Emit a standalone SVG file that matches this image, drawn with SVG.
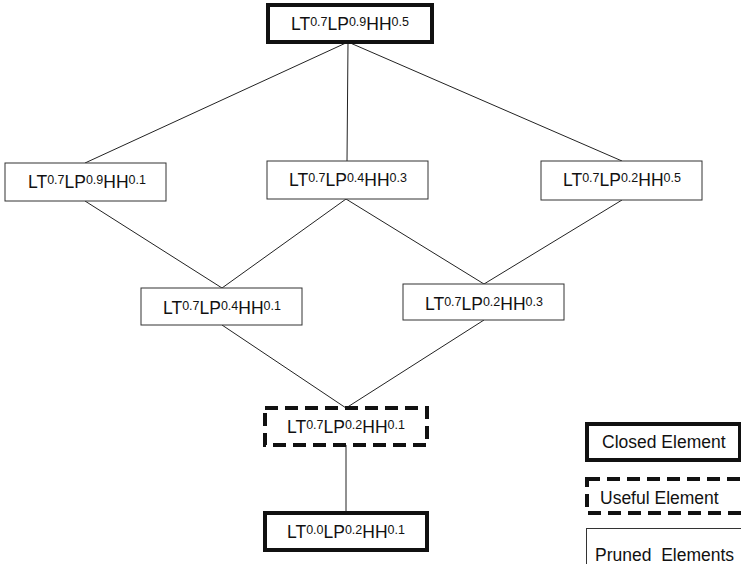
<svg xmlns="http://www.w3.org/2000/svg" width="741" height="564" viewBox="0 0 741 564">
<style>
text{font-family:"Liberation Sans",Arial,sans-serif;fill:#111;}
.lbl{font-size:17.5px;text-anchor:middle;}
.sup{font-size:12.5px;}
.leg{font-size:17.5px;}
.thin{fill:#fff;stroke:#333;stroke-width:1;}
.thick{fill:#fff;stroke:#111;stroke-width:4;}
.dash{fill:#fff;stroke:#111;stroke-width:4;stroke-dasharray:13 7;}
.edge{stroke:#222;stroke-width:1;fill:none;}
</style>
<g id="connectors">
<line class="edge" x1="348" y1="42" x2="85" y2="163"/>
<line class="edge" x1="348" y1="42" x2="347" y2="161"/>
<line class="edge" x1="348" y1="42" x2="622" y2="161"/>
<line class="edge" x1="85" y1="201" x2="222" y2="288"/>
<line class="edge" x1="346" y1="199" x2="222" y2="288"/>
<line class="edge" x1="346" y1="199" x2="484" y2="284"/>
<line class="edge" x1="622" y1="200" x2="484" y2="284"/>
<line class="edge" x1="222" y1="325" x2="346" y2="408"/>
<line class="edge" x1="484" y1="320" x2="346" y2="408"/>
<line class="edge" x1="346" y1="445" x2="346" y2="512"/>
</g>
<g id="n_top">
<rect class="thick" x="268" y="5" width="164" height="37"/>
<text class="lbl" x="350" y="30">LT<tspan class="sup" dy="-4">0.7</tspan><tspan dy="4">LP</tspan><tspan class="sup" dy="-4">0.9</tspan><tspan dy="4">HH</tspan><tspan class="sup" dy="-4">0.5</tspan></text>
</g>
<g id="n_l1">
<rect class="thin" x="5" y="163" width="161" height="38"/>
<text class="lbl" x="87" y="188">LT<tspan class="sup" dy="-4">0.7</tspan><tspan dy="4">LP</tspan><tspan class="sup" dy="-4">0.9</tspan><tspan dy="4">HH</tspan><tspan class="sup" dy="-4">0.1</tspan></text>
</g>
<g id="n_m1">
<rect class="thin" x="267" y="161" width="161" height="38"/>
<text class="lbl" x="348" y="186">LT<tspan class="sup" dy="-4">0.7</tspan><tspan dy="4">LP</tspan><tspan class="sup" dy="-4">0.4</tspan><tspan dy="4">HH</tspan><tspan class="sup" dy="-4">0.3</tspan></text>
</g>
<g id="n_r1">
<rect class="thin" x="541" y="161" width="161" height="39"/>
<text class="lbl" x="622" y="186">LT<tspan class="sup" dy="-4">0.7</tspan><tspan dy="4">LP</tspan><tspan class="sup" dy="-4">0.2</tspan><tspan dy="4">HH</tspan><tspan class="sup" dy="-4">0.5</tspan></text>
</g>
<g id="n_l2">
<rect class="thin" x="141" y="288" width="161" height="37"/>
<text class="lbl" x="222" y="314">LT<tspan class="sup" dy="-4">0.7</tspan><tspan dy="4">LP</tspan><tspan class="sup" dy="-4">0.4</tspan><tspan dy="4">HH</tspan><tspan class="sup" dy="-4">0.1</tspan></text>
</g>
<g id="n_r2">
<rect class="thin" x="403" y="284" width="161" height="36"/>
<text class="lbl" x="484" y="310">LT<tspan class="sup" dy="-4">0.7</tspan><tspan dy="4">LP</tspan><tspan class="sup" dy="-4">0.2</tspan><tspan dy="4">HH</tspan><tspan class="sup" dy="-4">0.3</tspan></text>
</g>
<g id="n_useful">
<rect class="dash" x="265" y="408" width="162" height="37"/>
<text class="lbl" x="346" y="433">LT<tspan class="sup" dy="-4">0.7</tspan><tspan dy="4">LP</tspan><tspan class="sup" dy="-4">0.2</tspan><tspan dy="4">HH</tspan><tspan class="sup" dy="-4">0.1</tspan></text>
</g>
<g id="n_closed">
<rect class="thick" x="265" y="513" width="162" height="37"/>
<text class="lbl" x="346" y="538">LT<tspan class="sup" dy="-4">0.0</tspan><tspan dy="4">LP</tspan><tspan class="sup" dy="-4">0.2</tspan><tspan dy="4">HH</tspan><tspan class="sup" dy="-4">0.1</tspan></text>
</g>
<g id="legend">
<rect class="thick" x="587" y="424" width="153" height="36"/>
<text class="leg" x="602" y="448">Closed Element</text>
<rect class="dash" x="587" y="479" width="170" height="34"/>
<text class="leg" x="600" y="504">Useful Element</text>
<rect class="thin" x="586.5" y="528.5" width="170" height="50"/>
<text class="leg" x="595" y="561" xml:space="preserve">Pruned  Elements</text>
</g>
</svg>
